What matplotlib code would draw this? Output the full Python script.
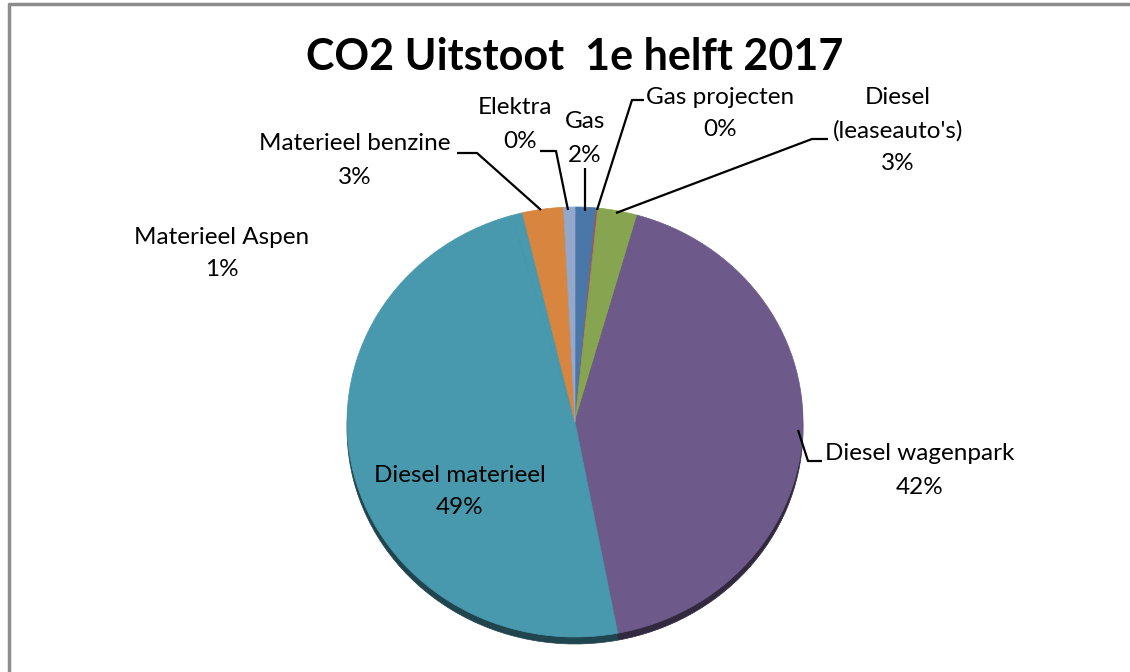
import matplotlib
matplotlib.use("Agg")
import matplotlib.pyplot as plt
import matplotlib.colors as mcolors

# ---- data ----
categories = ["Gas", "Gas projecten", "Diesel\n(leaseauto's)", "Diesel wagenpark",
              "Diesel materieel", "Materieel Aspen", "Materieel benzine", "Elektra"]
values = [1.5, 0.1, 2.8, 42.6, 48.5, 0.8, 2.9, 0.8]
pct_labels = ["2%", "0%", "3%", "42%", "49%", "1%", "3%", "0%"]
colors = ["#4A76A8", "#B5524E", "#87A550", "#6E5A8A", "#4899AE", "#4899AE", "#D8853F", "#94A8CC"]
title = "CO2 Uitstoot  1e helft 2017"

W, H = 1130, 672
plt.rcParams['font.family'] = ['Lato', 'DejaVu Sans']
fig = plt.figure(figsize=(W / 100, H / 100), dpi=100)

# pie axes: ellipse with rx=228, ry=215 px centred at (575, 422)
cx, cy, rx, ry = 575, 422, 228, 215
pax = fig.add_axes([(cx - rx) / W, (H - (cy + ry)) / H, 2 * rx / W, 2 * ry / H])
dark = [tuple(c * 0.45 for c in mcolors.to_rgb(col)) for col in colors]
w1, _ = pax.pie(values, colors=dark, startangle=90, counterclock=False, radius=1,
                center=(0, -7 / ry), wedgeprops=dict(linewidth=0))
w2, _ = pax.pie(values, colors=colors, startangle=90, counterclock=False, radius=1,
                center=(0, 0), wedgeprops=dict(linewidth=0))
for w in list(w1) + list(w2):
    w.set_edgecolor(w.get_facecolor())
    w.set_linewidth(0.5)
pax.set_aspect('auto')
pax.set_xlim(-1, 1)
pax.set_ylim(-1, 1)
pax.axis('off')

# overlay axes in pixel coordinates
ax = fig.add_axes([0, 0, 1, 1], zorder=5)
ax.set_xlim(0, W)
ax.set_ylim(H, 0)
ax.axis('off')
ax.patch.set_alpha(0)

# frame
ax.plot([9, 9, W + 5], [H + 5, 4, 4], color="#8C8C8C", lw=2.5, solid_capstyle='butt')

ax.text(575, 57, title, ha='center', va='center', fontsize=31, fontweight='bold', color='black')

fs = 17.5
def t(x, y, s):
    ax.text(x, y, s, ha='center', va='center', fontsize=fs, color='black')

# labels (order as in categories)
t(585, 122, categories[0]); t(585, 155, pct_labels[0])
t(720, 98, categories[1]); t(720, 129, pct_labels[1])
t(898, 98, "Diesel"); t(898, 131, "(leaseauto's)"); t(898, 164, pct_labels[2])
t(920, 453, categories[3]); t(920, 487, pct_labels[3])
t(460, 475, categories[4]); t(460, 508, pct_labels[4])
t(222, 237, categories[5]); t(222, 270, pct_labels[5])
t(355, 143, categories[6]); t(355, 178, pct_labels[6])
t(515, 108, categories[7]); t(520, 142, pct_labels[7])

# leader lines
lk = dict(color='black', lw=1.6, solid_capstyle='butt')
ax.plot([585, 585], [168, 211], **lk)                      # Gas
ax.plot([644, 632, 597], [100, 100, 210], **lk)            # Gas projecten
ax.plot([828, 812, 616], [139, 139, 213], **lk)            # Diesel lease
ax.plot([822, 808, 798], [461, 461, 430], **lk)            # Diesel wagenpark
ax.plot([457, 477, 541], [153, 153, 210], **lk)            # Materieel benzine
ax.plot([540, 556, 568], [151, 151, 210], **lk)            # Elektra

fig.savefig("out.png", dpi=100)
